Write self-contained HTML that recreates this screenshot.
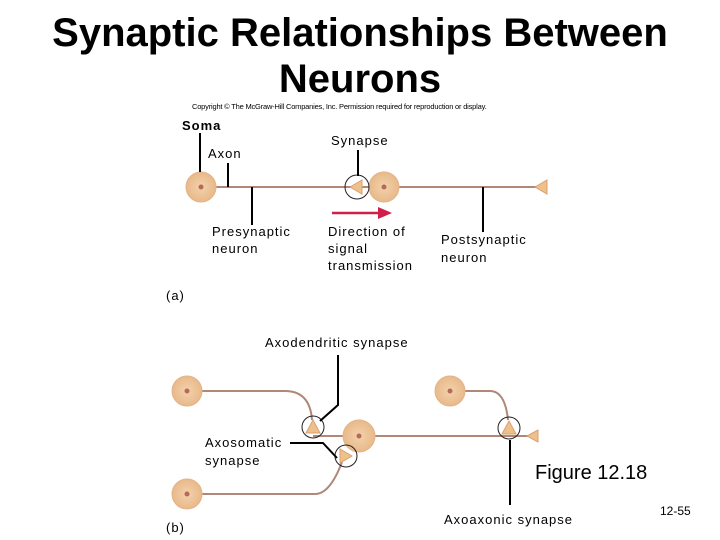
<html><body style="margin:0;width:720px;height:540px;background:#fff;position:relative;overflow:hidden;font-family:'Liberation Sans',sans-serif">
<div style="position:absolute;left:0;top:10px;width:720px;text-align:center;font-size:40px;font-weight:bold;line-height:46px">Synaptic Relationships Between<br>Neurons</div>
<div style="position:absolute;left:192px;top:102px;font-size:7.5px;letter-spacing:-0.2px">Copyright © The McGraw-Hill Companies, Inc. Permission required for reproduction or display.</div>
<svg width="720" height="540" style="position:absolute;left:0;top:0" font-family="Liberation Sans, sans-serif">
<defs><radialGradient id="g"><stop offset="0" stop-color="#f3d2ac"/><stop offset="1" stop-color="#e8b98a"/></radialGradient></defs>
<g stroke="#b08878" stroke-width="2" fill="none">
<line x1="214" y1="187" x2="537" y2="187"/>
<path d="M200 391 H285 Q310 391 312 420"/>
<line x1="313" y1="436" x2="535" y2="436"/>
<path d="M200 494 H315 Q330 494 342 462"/>
<path d="M463 391 H490 Q505 391 508 420"/>
</g>
<g fill="url(#g)" stroke="#e3b48a">
<circle cx="201" cy="187" r="15"/><circle cx="384" cy="187" r="15"/>
<circle cx="187" cy="391" r="15"/><circle cx="359" cy="436" r="16"/>
<circle cx="187" cy="494" r="15"/><circle cx="450" cy="391" r="15"/>
</g>
<g fill="#b86a5a"><circle cx="201" cy="187" r="2.5"/><circle cx="384" cy="187" r="2.5"/><circle cx="187" cy="391" r="2.5"/><circle cx="359" cy="436" r="2.5"/><circle cx="187" cy="494" r="2.5"/><circle cx="450" cy="391" r="2.5"/></g>
<g fill="#eec08c" stroke="#d9a070" stroke-width="1">
<polygon points="350,187 362,180 362,194"/>
<polygon points="535,187 547,180 547,194"/>
<polygon points="313,420 306,433 320,433"/>
<polygon points="352,456 340,449 340,463"/>
<polygon points="509,421 502,434 516,434"/>
<polygon points="527,436 538,430 538,442"/>
</g>
<g fill="none" stroke="#222" stroke-width="1">
<circle cx="357" cy="187" r="12"/><circle cx="313" cy="427" r="11"/><circle cx="346" cy="456" r="11"/><circle cx="509" cy="428" r="11"/>
</g>
<g stroke="#000" stroke-width="2" fill="none">
<line x1="200" y1="133" x2="200" y2="172"/>
<line x1="228" y1="163" x2="228" y2="187"/>
<line x1="358" y1="150" x2="358" y2="176"/>
<line x1="252" y1="187" x2="252" y2="225"/>
<line x1="483" y1="187" x2="483" y2="232"/>
<polyline points="338,355 338,405 320,421"/>
<polyline points="290,443 323,443 337,458"/>
<line x1="510" y1="440" x2="510" y2="505"/>
</g>
<line x1="332" y1="213" x2="380" y2="213" stroke="#d0204a" stroke-width="2.5"/>
<polygon points="378,207 392,213 378,219" fill="#d0204a"/>
<g font-size="13" fill="#000" letter-spacing="1">
<text x="182" y="130" font-weight="bold">Soma</text>
<text x="208" y="158">Axon</text>
<text x="331" y="145">Synapse</text>
<text x="212" y="236">Presynaptic</text><text x="212" y="253">neuron</text>
<text x="328" y="236">Direction of</text><text x="328" y="253">signal</text><text x="328" y="270">transmission</text>
<text x="441" y="244">Postsynaptic</text><text x="441" y="262">neuron</text>
<text x="166" y="300">(a)</text>
<text x="265" y="347">Axodendritic synapse</text>
<text x="205" y="447">Axosomatic</text><text x="205" y="465">synapse</text>
<text x="166" y="532">(b)</text>
<text x="444" y="524">Axoaxonic synapse</text>
<text x="535" y="479" font-size="20" letter-spacing="0">Figure 12.18</text>
<text x="660" y="515" font-size="12" letter-spacing="0">12-55</text>
</g>
</svg>
</body></html>
